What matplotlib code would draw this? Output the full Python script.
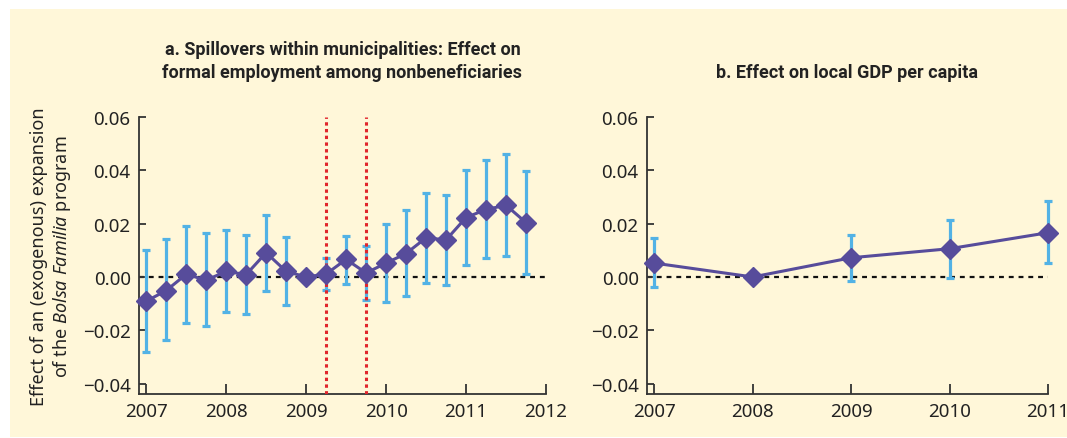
import matplotlib.pyplot as plt
from matplotlib.patches import Rectangle
import numpy as np

plt.rcParams['font.family'] = ['Noto Sans', 'DejaVu Sans']
plt.rcParams['mathtext.fontset'] = 'custom'
plt.rcParams['mathtext.it'] = 'Noto Sans:italic'
plt.rcParams['mathtext.rm'] = 'Noto Sans'

# panel a: quarterly estimates, 2007Q1 .. 2011Q4
quarters = np.arange(2007, 2012, 0.25)
est_a = [-0.0091, -0.0051, 0.0010, -0.0012, 0.0021, 0.0009, 0.0091, 0.0021, 0.0000, 0.0011,
         0.0066, 0.0015, 0.0052, 0.0088, 0.0147, 0.0139, 0.0223, 0.0253, 0.0269, 0.0204]
lo_a = [-0.0280, -0.0238, -0.0171, -0.0184, -0.0131, -0.0138, -0.0052, -0.0106, 0.0000, -0.0049,
        -0.0026, -0.0088, -0.0093, -0.0071, -0.0022, -0.0030, 0.0046, 0.0072, 0.0080, 0.0012]
hi_a = [0.0102, 0.0141, 0.0193, 0.0164, 0.0178, 0.0158, 0.0234, 0.0149, 0.0000, 0.0070,
        0.0154, 0.0117, 0.0198, 0.0250, 0.0316, 0.0309, 0.0400, 0.0438, 0.0460, 0.0397]
breaks_a = [2009.25, 2009.75]

# panel b: yearly estimates
years = [2007, 2008, 2009, 2010, 2011]
est_b = [0.0052, 0.0000, 0.0072, 0.0106, 0.0166]
lo_b = [-0.0039, 0.0000, -0.0016, -0.0004, 0.0052]
hi_b = [0.0146, 0.0000, 0.0158, 0.0214, 0.0285]

bg = '#fff7d9'
purple = '#574c9b'
blue = '#52b2e5'
red = '#e0262c'
dark = '#333333'

fig = plt.figure(figsize=(10.67, 4.39), dpi=100, facecolor='white')
fig.patches.append(Rectangle((10 / 1067, 1 - 438 / 439), 1057 / 1067, 428 / 439,
                             transform=fig.transFigure, facecolor=bg, edgecolor='none', zorder=-5))

ax_a = fig.add_axes([139 / 1067, 1 - 395 / 439, 407 / 1067, 277 / 439])
ax_b = fig.add_axes([647 / 1067, 1 - 395 / 439, 401 / 1067, 277 / 439])


def draw(ax, x, est, lo, hi, xlim, xticks):
    est = np.array(est)
    err = [est - np.array(lo), np.array(hi) - est]
    ax.set_facecolor('none')
    ax.axhline(0, color='#111111', lw=1.6, ls=(0, (2.2, 2.2)), zorder=1)
    bars = ax.errorbar(x, est, yerr=err, fmt='none', ecolor=blue, elinewidth=2.3, capsize=3,
                       capthick=2.3, zorder=2)
    for art in bars.lines[1] + bars.lines[2]:
        art.set_clip_on(False)
    ax.plot(x, est, color=purple, lw=2.2, marker='D', ms=10.5, mfc=purple, mec=purple,
            zorder=4, clip_on=False)
    ax.set_xlim(*xlim)
    ax.set_ylim(-0.0439, 0.06)
    ax.set_xticks(xticks)
    ax.set_xticklabels([str(t) for t in xticks])
    ax.set_yticks([-0.04, -0.02, 0.0, 0.02, 0.04, 0.06])
    ax.set_yticklabels(['\u22120.04', '\u22120.02', '0.00', '0.02', '0.04', '0.06'])
    for s in ['top', 'right']:
        ax.spines[s].set_visible(False)
    for s in ['left', 'bottom']:
        ax.spines[s].set_color(dark)
        ax.spines[s].set_linewidth(1.3)
    ax.tick_params(axis='both', direction='in', colors=dark, labelcolor='#222222',
                   labelsize=13.5, width=1.3)
    ax.tick_params(axis='y', length=5, pad=6)
    ax.tick_params(axis='x', length=7, pad=6)


draw(ax_a, quarters, est_a, lo_a, hi_a, (2006.91, 2012), [2007, 2008, 2009, 2010, 2011, 2012])
for b in breaks_a:
    ax_a.axvline(b, color=red, lw=2.2, ls=(0, (1.1, 1.1)), zorder=3)
draw(ax_b, years, est_b, lo_b, hi_b, (2006.926, 2011), years)

title_font = dict(family=['Roboto', 'DejaVu Sans'], fontsize=13, fontweight='bold', color='#222222')
ax_a.set_title('a. Spillovers within municipalities: Effect on\nformal employment among nonbeneficiaries',
               pad=29, linespacing=1.35, **title_font)
ax_b.set_title('b. Effect on local GDP per capita', pad=29, **title_font)
ax_a.set_ylabel('Effect of an (exogenous) expansion\nof the $Bolsa\\ Familia$ program',
                fontsize=13, color='#222222', labelpad=7, linespacing=1.2)

fig.savefig('out.png', dpi=100, facecolor='white')
